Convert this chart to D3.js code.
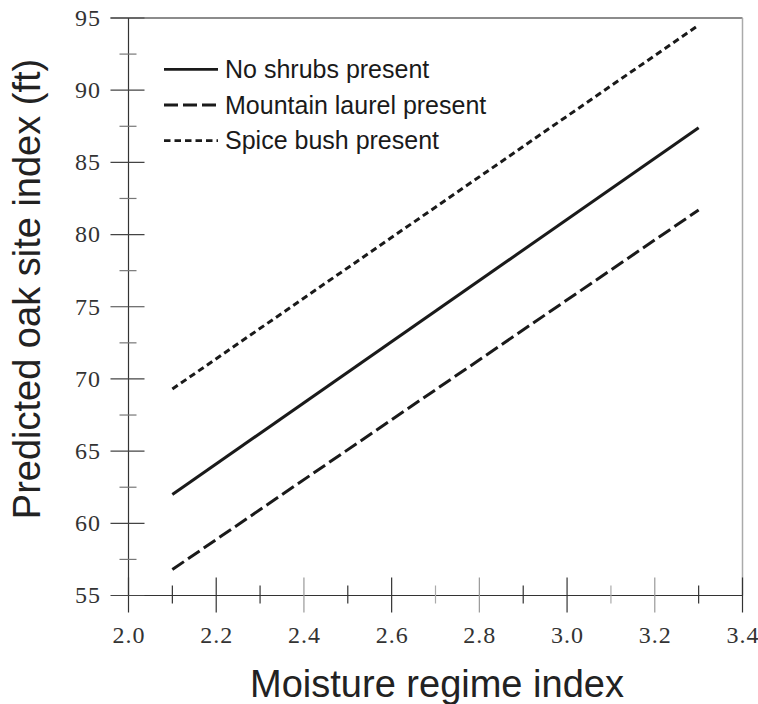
<!DOCTYPE html>
<html>
<head>
<meta charset="utf-8">
<script src="https://cdn.jsdelivr.net/npm/d3@7.9.0/dist/d3.min.js"></script>
<style>
  body { margin: 0; background: #fff; }
  svg { display: block; }
  .tick-label { font-family: "Liberation Serif", serif; font-size: 24px; fill: #333; letter-spacing: 1px; }
  .title { font-family: "Liberation Sans", Arial, sans-serif; font-size: 38px; fill: #222; }
  .legend-text { font-family: "Liberation Sans", Arial, sans-serif; font-size: 25px; fill: #1a1a1a; }
</style>
</head>
<body>
<svg id="chart" width="758" height="704"></svg>
<script>
// data
const moisture = [2.1, 3.3];
const noShrubs = [62.0, 87.4];
const mountainLaurel = [56.8, 81.7];
const spiceBush = [69.3, 94.5];

const seriesNames = ['No shrubs present', 'Mountain laurel present', 'Spice bush present'];

const xMajor = [2.0, 2.2, 2.4, 2.6, 2.8, 3.0, 3.2, 3.4];
const xMinor = [2.1, 2.3, 2.5, 2.7, 2.9, 3.1, 3.3];
const yMajor = [55, 60, 65, 70, 75, 80, 85, 90, 95];
const yMinor = [57.5, 62.5, 67.5, 72.5, 77.5, 82.5, 87.5, 92.5];

const svg = d3.select('#chart');

const x = d3.scaleLinear().domain([2.0, 3.4]).range([128.5, 742.5]);
const y = d3.scaleLinear().domain([55, 95]).range([595.5, 18]);

// frame: top and right
svg.append('line')
  .attr('x1', x(2.0) - 18).attr('x2', x(3.4))
  .attr('y1', y(95)).attr('y2', y(95))
  .attr('stroke', '#666').attr('stroke-width', 1.3);
svg.append('line')
  .attr('x1', x(3.4)).attr('x2', x(3.4))
  .attr('y1', y(95)).attr('y2', y(55))
  .attr('stroke', '#aaa').attr('stroke-width', 1.5);

// axes lines
svg.append('line')
  .attr('x1', x(2.0)).attr('x2', x(2.0))
  .attr('y1', y(95)).attr('y2', y(55))
  .attr('stroke', '#333').attr('stroke-width', 1.2);
svg.append('line')
  .attr('x1', x(2.0)).attr('x2', x(3.4))
  .attr('y1', y(55)).attr('y2', y(55))
  .attr('stroke', '#333').attr('stroke-width', 1.2);

// x ticks (cross the axis)
svg.selectAll('.xmaj').data(xMajor).join('line')
  .attr('x1', d => x(d)).attr('x2', d => x(d))
  .attr('y1', y(55) - 18).attr('y2', y(55) + 17)
  .attr('stroke', (d, i) => i % 2 === 0 && i > 0 ? '#999' : '#333').attr('stroke-width', 1.2);
svg.selectAll('.xmin').data(xMinor).join('line')
  .attr('x1', d => x(d)).attr('x2', d => x(d))
  .attr('y1', y(55) - 10).attr('y2', y(55) + 8)
  .attr('stroke', (d, i) => i === 3 || i === 5 ? '#aaa' : '#333').attr('stroke-width', 1.2);

// y ticks
svg.selectAll('.ymaj').data(yMajor).join('line')
  .attr('x1', x(2.0) - 18).attr('x2', x(2.0) + 16)
  .attr('y1', d => y(d)).attr('y2', d => y(d))
  .attr('stroke', '#444').attr('stroke-width', 1.2);
svg.selectAll('.ymin').data(yMinor).join('line')
  .attr('x1', x(2.0) - 9).attr('x2', x(2.0) + 8)
  .attr('y1', d => y(d)).attr('y2', d => y(d))
  .attr('stroke', '#777').attr('stroke-width', 1.2);

// tick labels
svg.selectAll('.xlab').data(xMajor).join('text')
  .attr('class', 'tick-label')
  .attr('x', d => x(d) + 0.5).attr('y', 643)
  .attr('text-anchor', 'middle')
  .text(d => d3.format('.1f')(d));
svg.selectAll('.ylab').data(yMajor).join('text')
  .attr('class', 'tick-label')
  .attr('x', 101).attr('y', d => y(d))
  .attr('dy', '0.33em')
  .attr('text-anchor', 'end')
  .text(d => d);

// titles
svg.append('text').attr('class', 'title')
  .attr('x', 437).attr('y', 697)
  .attr('text-anchor', 'middle')
  .text('Moisture regime index');
svg.append('text').attr('class', 'title')
  .attr('transform', 'translate(40,289) rotate(-90)')
  .attr('text-anchor', 'middle')
  .text('Predicted oak site index (ft)');

// lines
const dashes = [null, '14,5', '6.5,4'];
const series = [noShrubs, mountainLaurel, spiceBush];
const line = d3.line().x(d => x(d[0])).y(d => y(d[1]));

series.forEach((vals, i) => {
  svg.append('path')
    .datum(moisture.map((m, j) => [m, vals[j]]))
    .attr('d', line)
    .attr('fill', 'none')
    .attr('stroke', '#1a1a1a')
    .attr('stroke-width', 3)
    .attr('stroke-dasharray', dashes[i]);
});

// legend
const legend = svg.append('g');
seriesNames.forEach((name, i) => {
  const ly = 69.3 + i * 35.7;
  legend.append('line')
    .attr('x1', 164).attr('x2', 218)
    .attr('y1', ly).attr('y2', ly)
    .attr('stroke', '#1a1a1a').attr('stroke-width', 2.8)
    .attr('stroke-dasharray', dashes[i]);
  legend.append('text')
    .attr('class', 'legend-text')
    .attr('x', 225).attr('y', ly + 8.5)
    .text(name);
});
</script>
</body>
</html>
